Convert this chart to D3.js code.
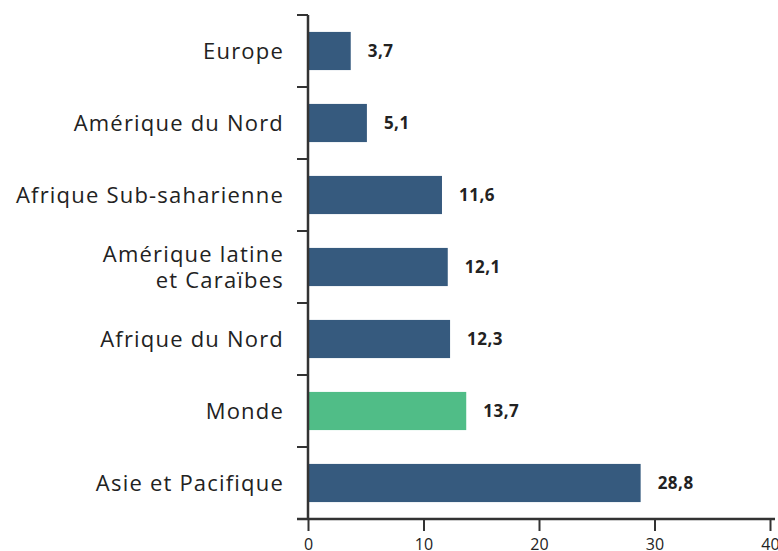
<!DOCTYPE html>
<html>
<head>
<meta charset="utf-8">
<script src="https://d3js.org/d3.v7.min.js"></script>
<style>
body { margin: 0; background: #fff; font-family: 'Open Sans', sans-serif; }
svg { display: block; }
.cat { font-size: 22px; font-weight: 500; letter-spacing: 1.2px; fill: #222; }
.val { font-size: 17px; font-weight: bold; letter-spacing: 0.5px; fill: #222; }
.tick text { font-size: 16px; fill: #222; font-family: 'Open Sans', sans-serif; }
</style>
</head>
<body>
<svg width="778" height="551"></svg>
<script>
var regions = ["Europe", "Amérique du Nord", "Afrique Sub-saharienne", "Amérique latine\net Caraïbes", "Afrique du Nord", "Monde", "Asie et Pacifique"];
var values = [3.7, 5.1, 11.6, 12.1, 12.3, 13.7, 28.8];
var xTicks = [0, 10, 20, 30, 40];

var svg = d3.select("svg");
var blue = "#365a7e", green = "#50bd87";

var x = d3.scaleLinear().domain([0, 40]).range([308, 770]);
var y = d3.scaleBand().domain(regions).range([15, 519]).paddingInner(0.47).paddingOuter(0.235);

// bars
svg.selectAll("rect.bar")
  .data(regions)
  .enter().append("rect")
  .attr("class", "bar")
  .attr("x", x(0))
  .attr("y", function (d) { return y(d); })
  .attr("width", function (d, i) { return x(values[i]) - x(0); })
  .attr("height", y.bandwidth())
  .attr("fill", function (d) { return d == "Monde" ? green : blue; });

// value labels
svg.selectAll("text.val")
  .data(regions)
  .enter().append("text")
  .attr("class", "val")
  .attr("x", function (d, i) { return x(values[i]) + 17; })
  .attr("y", function (d) { return y(d) + y.bandwidth() / 2; })
  .attr("dy", "0.35em")
  .text(function (d, i) { return String(values[i]).replace(".", ","); });

// category labels (some on two lines)
regions.forEach(function (d) {
  var lines = d.split("\n");
  var cy = y(d) + y.bandwidth() / 2;
  var t = svg.append("text").attr("class", "cat").attr("text-anchor", "end");
  lines.forEach(function (l, j) {
    t.append("tspan")
      .attr("x", 284)
      .attr("y", cy + (j - (lines.length - 1) / 2) * 26)
      .attr("dy", "0.35em")
      .text(l);
  });
});

// y axis: ticks at band edges
var step = y.step();
var edges = d3.range(regions.length + 1).map(function (i) { return 15 + i * step; });
svg.append("line").attr("x1", 308).attr("x2", 308).attr("y1", 15).attr("y2", 519)
  .attr("stroke", "#333").attr("stroke-width", 2.5);
svg.selectAll("line.ytick").data(edges).enter().append("line")
  .attr("x1", 297).attr("x2", 308)
  .attr("y1", function (d) { return d; }).attr("y2", function (d) { return d; })
  .attr("stroke", "#333").attr("stroke-width", 2);

// x axis
var xAxis = d3.axisBottom(x).tickValues(xTicks).tickSize(12).tickPadding(8);
var gx = svg.append("g").attr("transform", "translate(0,519)").call(xAxis);
gx.select(".domain").remove();
gx.selectAll(".tick line").attr("stroke", "#333").attr("stroke-width", 2);
svg.append("line").attr("x1", 297).attr("x2", 775).attr("y1", 519).attr("y2", 519)
  .attr("stroke", "#333").attr("stroke-width", 2.5);
</script>
</body>
</html>
